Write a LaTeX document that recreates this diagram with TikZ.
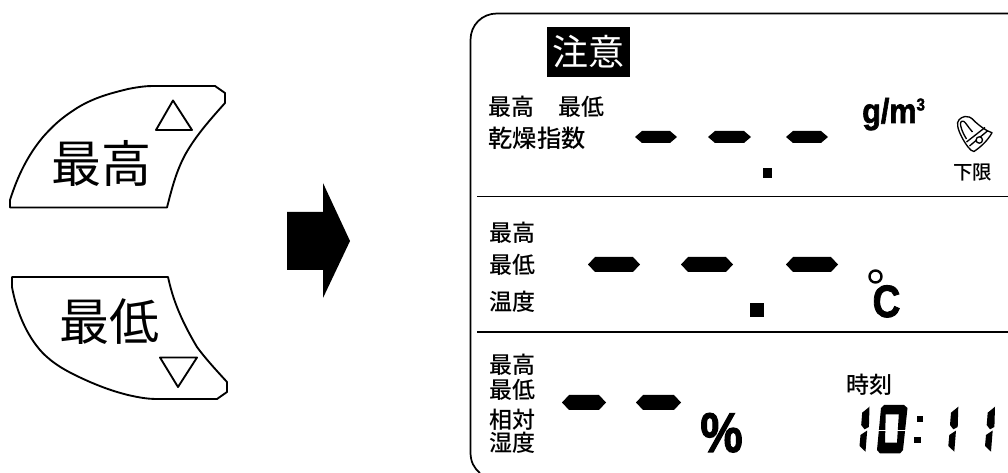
\documentclass[tikz,border=0pt]{standalone}
\usepackage{fontspec}
\newfontfamily\cjk{Noto Sans CJK JP Medium}
\newfontfamily\cjkreg{Noto Sans CJK JP}
\newfontfamily\arialb{Liberation Sans}[BoldFeatures={FakeBold=2}]
\usetikzlibrary{calc}
\newcommand{\cjksize}[1]{\cjk\fontsize{#1}{#1}\selectfont}
\tikzset{
  x=0.75pt,y=-0.75pt,
  outline/.style={draw=black,line width=1.4pt,line join=round,fill=white},
  rule/.style={draw=black,line width=1.3pt},
  solidblack/.style={fill=black,draw=none},
  lbl/.style={inner sep=0pt,outer sep=0pt,anchor=center,font=\cjksize{17.25pt}},
  big/.style={inner sep=0pt,outer sep=0pt,anchor=center,font=\cjkreg\fontsize{37.5pt}{37.5pt}\selectfont},
  thin/.style={draw=black,line width=1pt,line join=round},
}
\newcommand{\dash}[4]{% x1 x2 y1 y2
  \fill[solidblack] (#1,{(#3+#4)/2}) -- ({#1+7},#3) -- ({#2-7},#3) -- (#2,{(#3+#4)/2}) -- ({#2-7},#4) -- ({#1+7},#4) -- cycle;}
\newcommand{\digitone}[1]{%
  \begin{scope}[xshift=#1*0.75pt]
  \fill[solidblack] (958.3,406.7) -- (957.7,427) -- (953.3,429.3) -- (950,425) -- (951,412.7) -- cycle;
  \fill[solidblack] (956,430.5) -- (954.3,451.7) -- (948.3,446) -- (949.3,435) -- cycle;
  \end{scope}}
\begin{document}
\begin{tikzpicture}
\useasboundingbox (0,0) rectangle (1008,473);
% left buttons
\draw[outline] (10,207.5) -- (10,200) .. controls (18,175) and (28,155) .. (43,137)
  .. controls (58,120) and (68,114) .. (77,108) .. controls (95,97) and (112,93) .. (128,89)
  .. controls (138,87) and (146,86) .. (153,86) -- (215,86) -- (225,93) -- (225,103)
  .. controls (208,122) and (195,137) .. (185,155) .. controls (176,172) and (172,188) .. (167,207.5) -- cycle;
\draw[outline] (156,130) -- (173,100.5) -- (192,130) -- cycle;
\node[big] (hi) at (101,163) {最高};
\draw[outline] (12,277) -- (168,277) .. controls (172,295) and (178,315) .. (197,347)
  .. controls (205,358) and (216,370) .. (227,382) -- (227,392) -- (217,399) -- (157,399)
  .. controls (146,399) and (137,397) .. (128,395) .. controls (112,391) and (102,387) .. (90,382)
  .. controls (72,374) and (58,367) .. (47,357) .. controls (33,345) and (18,320) .. (12,287) -- cycle;
\draw[outline] (160,357.5) -- (197,357.5) -- (178,387) -- cycle;
\node[big] (lo) at (110,322) {最低};
% arrow
\fill[solidblack] (287,212) -- (323,212) -- (323,183) -- (350,241) -- (323,298) -- (323,270) -- (287,270) -- cycle;
% panel
\draw[rule] (1008,13.5) -- (497,13.5) .. controls (482,13.5) and (470.5,25) .. (470.5,40)
  -- (470.5,452) .. controls (470.5,462) and (474,468) .. (480,473);
\draw[rule] (477,196.5) -- (1008,196.5);
\draw[rule] (477,332) -- (1008,332);
% section 1
\fill[solidblack] (547,27) rectangle (630,77);
\node[lbl,font=\cjkreg\fontsize{27pt}{27pt}\selectfont,text=white] (warn) at (588.5,52) {注意};
\node[lbl] (s1a) at (511,107) {最高};
\node[lbl] (s1b) at (581,107) {最低};
\node[lbl,font=\cjksize{18.2pt}] (s1c) at (537,138) {乾燥指数};
\dash{635}{677}{131}{143}
\dash{708}{751}{131}{143}
\dash{786}{828}{131}{143}
\fill[solidblack] (763,168) rectangle (772,178);
\node[inner sep=0pt,anchor=base west,xscale=0.88,font=\arialb\bfseries\fontsize{26pt}{26pt}\selectfont] (gm) at (862,123) {g/m\raisebox{0.36em}{\fontsize{13pt}{13pt}\selectfont 3}};
% bell
\draw[thin,fill=white] (992,132.7) .. controls (986,131) and (980,126) .. (975,121.7)
  .. controls (971,117) and (968,116) .. (965,116.5) .. controls (960,117.5) and (956.5,121) .. (957.7,126)
  .. controls (958.5,132) and (964,142) .. (968.3,147.3) .. controls (970,150) and (972,151) .. (974,151.5)
  .. controls (982,146) and (988,140) .. cycle;
\draw[thin] (972.5,132) .. controls (968,127) and (966,123) .. (964,121.5) .. controls (961,120) and (959.5,123) .. (961,127) .. controls (962,131) and (964,135) .. (966.5,139);
\draw[thin] (966.5,142) -- (985,127.5);
\draw[thin] (969.5,146) -- (988,130.5);
\draw[thin,fill=white] (979.3,140) circle[radius=3.2];
\node[lbl,font=\cjksize{14.6pt}] (lim) at (972.5,172) {下限};
% section 2
\node[lbl] (s2a) at (512,233) {最高};
\node[lbl] (s2b) at (512,265) {最低};
\node[lbl] (s2c) at (512,302) {温度};
\dash{588}{640}{257}{272}
\dash{681}{733}{257}{272}
\dash{786}{838}{257}{272}
\fill[solidblack] (750,303) rectangle (764,317);
\draw[draw=black,line width=1.8pt] (875.5,276.5) circle[radius=6];
\node[inner sep=0pt,anchor=base,xscale=0.85,font=\arialb\bfseries\fontsize{34pt}{34pt}\selectfont] (degc) at (886.5,317) {C};
% section 3
\node[lbl] (s3a) at (512,365) {最高};
\node[lbl] (s3b) at (512,390) {最低};
\node[lbl] (s3c) at (512,420) {相対};
\node[lbl] (s3d) at (512,443) {湿度};
\dash{562}{606}{395}{410}
\dash{636}{681}{395}{410}
\node[inner sep=0pt,anchor=base,xscale=0.85,font=\arialb\bfseries\fontsize{42pt}{42pt}\selectfont] (pct) at (721.5,452) {\%};
\node[lbl] (tm) at (869,385) {時刻};
% clock digits
\begin{scope}[xshift=-88.8*0.75pt]
\fill[solidblack] (958.3,406.7) -- (957.7,427) -- (953.3,429.3) -- (950,425) -- (951,412.7) -- cycle;
\fill[solidblack] (956,430.5) -- (954.3,451.7) -- (948.3,446) -- (949.3,435) -- cycle;
\end{scope}
\fill[solidblack,even odd rule] (881,408) -- (884,405) -- (904,405) -- (907.5,408) -- (903,450) -- (900,453.5) -- (880,453.5) -- (877,450) -- cycle
  (885.7,414.5) -- (898.8,414.5) -- (897,442.7) -- (885,442.7) -- cycle;
\draw[white,line width=0.5pt] (876,430) -- (887,430) (896,430) -- (908,430);
\fill[solidblack] (917,416) rectangle (923.3,422);
\fill[solidblack] (914,436.7) rectangle (920.5,442.7);
\digitone{0}
\digitone{36.7}
\end{tikzpicture}
\end{document}
